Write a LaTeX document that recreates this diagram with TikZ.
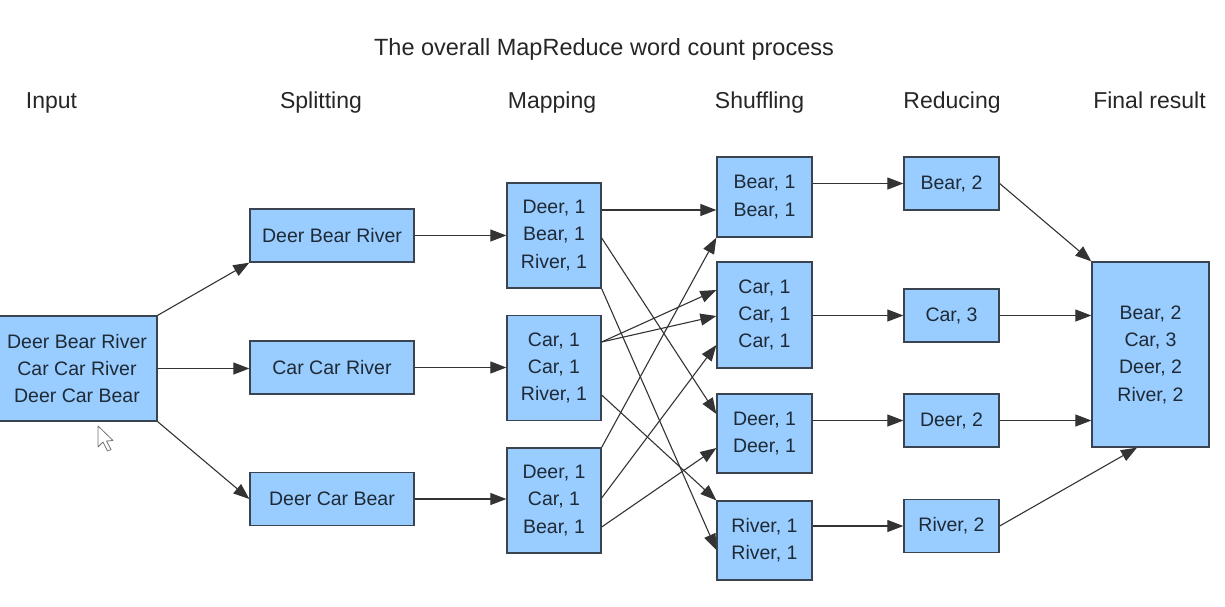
\documentclass[tikz,border=0pt]{standalone}
\usepackage{fontspec}
\setmainfont{Liberation Sans}
\usetikzlibrary{arrows.meta,calc}
\definecolor{boxfill}{HTML}{99CCFF}
\definecolor{boxline}{HTML}{3A4450}
\definecolor{textcol}{HTML}{1E2A36}
\definecolor{arrcol}{HTML}{333333}
\begin{document}
\begin{tikzpicture}[x=1pt,y=-1pt,
  box/.style={draw=boxline,fill=boxfill,line width=1.3pt,inner sep=0pt,align=center,
    font=\fontsize{19.5}{27.3}\selectfont,text=textcol},
  arr/.style={draw=arrcol,line width=1.1pt,-{Triangle[length=16pt,width=12pt]}},
  hdr/.style={font=\fontsize{23}{27}\selectfont,anchor=base,text=black!85,inner sep=0pt}]
\useasboundingbox (0,0) rectangle (1225,606);
% titles
\node[hdr,font=\fontsize{23.5}{28}\selectfont] (title) at (604,55) {The overall MapReduce word count process};
\node[hdr] (hin) at (51.5,108) {Input};
\node[hdr] (hsp) at (321,108) {Splitting};
\node[hdr] (hmap) at (552,108) {Mapping};
\node[hdr] (hsh) at (759.5,108) {Shuffling};
\node[hdr] (hred) at (952,108) {Reducing};
\node[hdr] (hfin) at (1149.5,108) {Final result};
% input
\node[box,minimum width=160pt,minimum height=105pt] (in) at (77,368.5) {Deer Bear River\\Car Car River\\Deer Car Bear};
% splitting
\node[box,minimum width=164pt,minimum height=53pt] (sp1) at (332,235.5) {Deer Bear River};
\node[box,minimum width=164pt,minimum height=53pt] (sp2) at (332,367.5) {Car Car River};
\node[box,minimum width=164pt,minimum height=53pt] (sp3) at (332,499) {Deer Car Bear};
% mapping
\node[box,minimum width=94pt,minimum height=105pt] (m1) at (554,235.5) {Deer, 1\\Bear, 1\\River, 1};
\node[box,minimum width=94pt,minimum height=105pt] (m2) at (554,368) {Car, 1\\Car, 1\\River, 1};
\node[box,minimum width=94pt,minimum height=105pt] (m3) at (554,500.5) {Deer, 1\\Car, 1\\Bear, 1};
% shuffling
\node[box,minimum width=95pt,minimum height=80pt] (s1) at (764.5,197) {Bear, 1\\Bear, 1};
\node[box,minimum width=95pt,minimum height=106pt] (s2) at (764.5,315) {Car, 1\\Car, 1\\Car, 1};
\node[box,minimum width=95pt,minimum height=79pt] (s3) at (764.5,433.5) {Deer, 1\\Deer, 1};
\node[box,minimum width=95pt,minimum height=79pt] (s4) at (764.5,540.5) {River, 1\\River, 1};
% reducing
\node[box,minimum width=95pt,minimum height=53pt] (r1) at (951.5,183.5) {Bear, 2};
\node[box,minimum width=95pt,minimum height=53pt] (r2) at (951.5,315.5) {Car, 3};
\node[box,minimum width=95pt,minimum height=53pt] (r3) at (951.5,420.5) {Deer, 2};
\node[box,minimum width=95pt,minimum height=53pt] (r4) at (951.5,526) {River, 2};
% final
\node[box,minimum width=117pt,minimum height=185pt] (fin) at (1150.5,354.5) {Bear, 2\\Car, 3\\Deer, 2\\River, 2};
% input -> splitting
\draw[arr] (in.north east) -- (sp1.south west);
\draw[arr] (in.east) -- (in.east -| sp2.west);
\draw[arr] (in.south east) -- (sp3.west);
% splitting -> mapping
\draw[arr] (sp1.east) -- (sp1.east -| m1.west);
\draw[arr] (sp2.east) -- (sp2.east -| m2.west);
\draw[arr] (sp3.east) -- (sp3.east -| m3.west);
% mapping -> shuffling
\draw[arr] ($(m1.east)+(0,-25.5)$) -- ($(s1.west)+(0,13)$);
\draw[arr] ($(m1.east)+(0,2.5)$) -- ($(s3.west)+(0,-19.5)$);
\draw[arr] (m1.south east) -- ($(s4.west)+(0,9.5)$);
\draw[arr] ($(m2.east)+(0,-26)$) -- ($(s2.west)+(0,-25)$);
\draw[arr] ($(m2.east)+(0,-26)$) -- ($(s2.west)+(0,1)$);
\draw[arr] ($(m2.east)+(0,27)$) -- (s4.north west);
\draw[arr] (m3.north east) -- (s1.south west);
\draw[arr] ($(m3.east)+(0,-2.5)$) -- ($(s2.west)+(0,30)$);
\draw[arr] ($(m3.east)+(0,26.5)$) -- ($(s3.west)+(0,14.5)$);
% shuffling -> reducing
\draw[arr] (s1.east |- r1.west) -- (r1.west);
\draw[arr] (s2.east |- r2.west) -- (r2.west);
\draw[arr] (s3.east |- r3.west) -- (r3.west);
\draw[arr] (s4.east |- r4.west) -- (r4.west);
% reducing -> final
\draw[arr] (r1.east) -- (fin.north west);
\draw[arr] (r2.east) -- (fin.west |- r2.east);
\draw[arr] (r3.east) -- (fin.west |- r3.east);
\draw[arr] (r4.east) -- ($(fin.south)+(-13.5,0)$);
% mouse cursor
\draw[draw=black!55,fill=white,line width=0.8pt,line join=round]
  (98,426) -- (98,447) -- (103,442) -- (107.5,451) -- (111,449.5) -- (106.5,441) -- (113,440.5) -- cycle;
\end{tikzpicture}
\end{document}
